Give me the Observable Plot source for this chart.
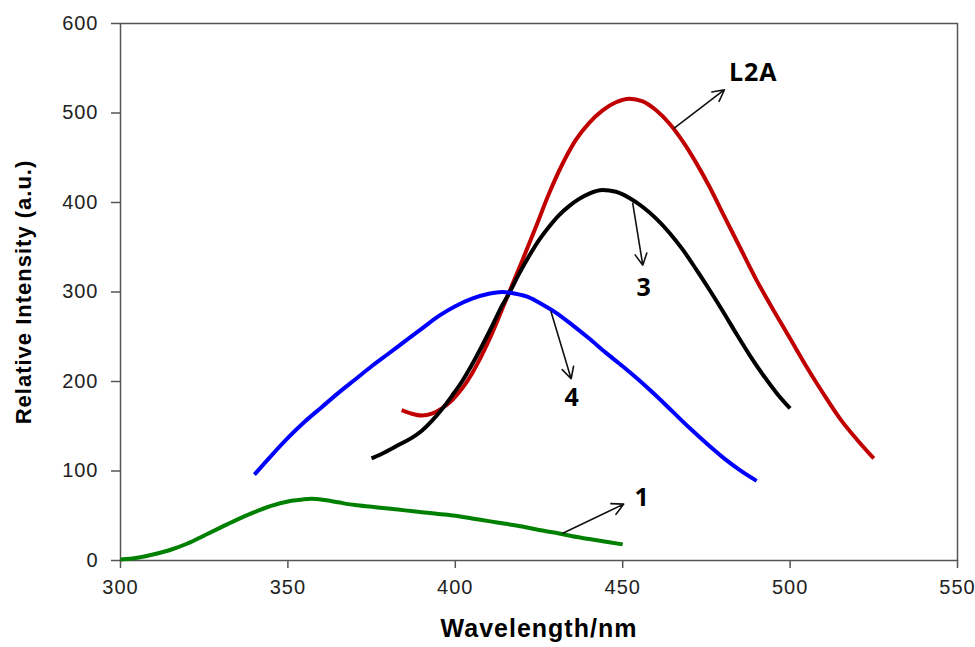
<!DOCTYPE html>
<html>
<head>
<meta charset="utf-8">
<script src="https://cdn.jsdelivr.net/npm/d3@7"></script>
<script src="https://cdn.jsdelivr.net/npm/@observablehq/plot@0.6"></script>
<style>
  html, body { margin: 0; padding: 0; background: #fff; }
</style>
</head>
<body>
<div id="chart"></div>
<script>
// ---- data ----
const xTicks = [300, 350, 400, 450, 500, 550];
const yTicks = [0, 100, 200, 300, 400, 500, 600];

const seriesNames = ["L2A", "3", "4", "1"];
const seriesColors = ["#C00000", "#000000", "#0000FF", "#008000"];

// wavelength (nm), relative intensity
const curveL2A = [
  [384,168],[387,164],[390,162],[393,164],[396,170],[399,179],[402,192],[405,209],
  [408,230],[411,254],[414,281],[417,308],[420,335],[424,372],[428,410],[432,443],
  [436,470],[440,489],[444,503],[448,512],[452,516],[456,513],[460,503],[464,488],
  [468,468],[472,444],[476,417],[480,387],[485,350],[490,313],[495,280],[500,248],
  [505,216],[510,186],[515,158],[520,135],[525,114]
];
const curve3 = [
  [375,114],[379,121],[383,129],[387,137],[390,145],[393,156],[396,169],[399,184],
  [402,200],[405,219],[408,240],[411,262],[414,285],[416,298],[419,320],[422,340],
  [425,358],[428,373],[431,386],[434,396],[437,404],[440,410],[444,414],[448,412],
  [452,405],[456,395],[460,382],[464,366],[468,347],[472,325],[476,302],[480,278],
  [484,253],[488,229],[492,207],[496,187],[500,170]
];
const curve4 = [
  [340,96],[345,117],[350,137],[355,155],[360,171],[365,187],[370,202],[375,217],
  [380,231],[385,245],[390,259],[395,273],[400,284],[405,292.5],[410,298],[414,300],
  [418,298],[422,294],[426,286],[430,277],[435,263],[440,248],[445,232],[450,217],
  [455,201],[460,184],[465,166],[470,148],[475,131],[480,115],[485,101],[490,89]
];
const curve1 = [
  [300,1],[305,3],[310,7],[315,12],[320,19],[325,28],[330,37],[335,46],[340,54],
  [345,61],[350,66],[354,68],[357,69],[361,67.5],[365,65],[370,62],[375,60],[380,58],
  [385,56],[390,54],[395,52],[400,50],[405,47],[410,44],[415,41],[420,38],[425,34],
  [430,31],[435,27],[440,24],[445,21],[450,18]
];
const curves = [curveL2A, curve3, curve4, curve1];

// annotation labels: text, x, y (data units)
const labelTexts = ["L2A", "3", "4", "1"];
const labelX = [489, 456.4, 434.9, 455.8];
const labelY = [545, 305, 182, 70];
// annotation arrows: from (x1,y1) to (x2,y2), data units
const arrowX1 = [465.4, 453.0, 428.6, 432.1];
const arrowY1 = [483, 399, 278, 30.5];
const arrowX2 = [480.4, 456.0, 434.6, 450.3];
const arrowY2 = [526, 330, 203, 63];

const xTitle = "Wavelength/nm";
const yTitle = "Relative Intensity (a.u.)";

// ---- build ----
const lineMarks = curves.map((c, i) =>
  Plot.line(c.map(([x, y]) => ({x, y})), {
    x: "x", y: "y", stroke: seriesColors[i], strokeWidth: 4,
    curve: "monotone-x", strokeLinejoin: "round", strokeLinecap: "butt"
  })
);

const labels = labelTexts.map((t, i) => ({t, x: labelX[i], y: labelY[i]}));
const arrows = arrowX1.map((x1, i) => ({x1, y1: arrowY1[i], x2: arrowX2[i], y2: arrowY2[i]}));

const chart = Plot.plot({
  width: 975,
  height: 647,
  marginLeft: 120,
  marginRight: 18,
  marginTop: 23,
  marginBottom: 87,
  style: {fontFamily: "'Liberation Sans', Arial, sans-serif", background: "#fff", color: "#222", letterSpacing: "1px"},
  x: {domain: [300, 550]},
  y: {domain: [0, 600]},
  marks: [
    Plot.frame({stroke: "#555", strokeWidth: 1.5}),
    Plot.axisX({ticks: xTicks, tickSize: 8, tickPadding: 11, fontSize: 20, label: null, stroke: "#555", strokeWidth: 1.5, fill: "#222"}),
    Plot.axisY({ticks: yTicks, tickSize: 9, tickPadding: 13, fontSize: 20, label: null, stroke: "#555", strokeWidth: 1.5, fill: "#222"}),
    ...lineMarks,
    Plot.arrow(arrows, {x1: "x1", y1: "y1", x2: "x2", y2: "y2", stroke: "#111", strokeWidth: 1.6, headLength: 12, headAngle: 55}),
    Plot.text(labels, {x: "x", y: "y", text: "t", fontFamily: "'Open Sans', sans-serif", fontWeight: "bold", fontSize: 25, fill: "#000"}),
    Plot.text([xTitle], {frameAnchor: "bottom", dy: 68, lineAnchor: "middle", textAnchor: "middle", fontWeight: "bold", fontSize: 25, fill: "#000"}),
    Plot.text([yTitle], {frameAnchor: "left", dx: -97, rotate: -90, textAnchor: "middle", lineAnchor: "middle", fontWeight: "bold", fontSize: 22, fill: "#000"})
  ]
});
document.getElementById("chart").appendChild(chart);
</script>
</body>
</html>
